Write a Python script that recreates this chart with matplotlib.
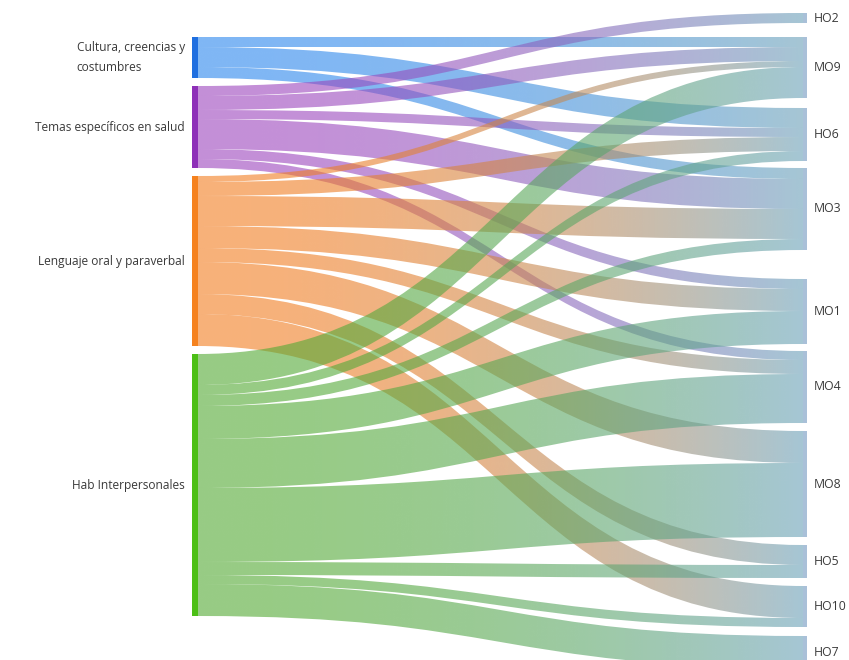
import numpy as np
import matplotlib
matplotlib.use("Agg")
import matplotlib.pyplot as plt
from matplotlib.path import Path
from matplotlib.patches import PathPatch, Rectangle
from matplotlib.colors import to_rgb

# ---- data -------------------------------------------------------------
sources = [
    "Cultura, creencias y\ncostumbres",
    "Temas específicos en salud",
    "Lenguaje oral y paraverbal",
    "Hab Interpersonales",
]
targets = ["HO2", "MO9", "HO6", "MO3", "MO1", "MO4", "MO8", "HO5", "HO10", "HO7"]

# flow from each source to every target (same order as `targets`)
cultura_flows = [0, 10, 20, 11, 0, 0, 0, 0, 0, 0]
temas_flows = [10, 14, 9, 30, 10, 9, 0, 0, 0, 0]
lenguaje_flows = [0, 6, 14, 30, 22, 14, 32, 20, 32, 0]
hab_flows = [0, 31, 10, 11, 33, 49, 74, 13, 9, 32]

flows = np.array([cultura_flows, temas_flows, lenguaje_flows, hab_flows], float)

# ---- style / layout ---------------------------------------------------
source_colors = ["#1f6fe0", "#8e30b8", "#f5821f", "#4cbf16"]
link_colors = ["#2a86ee", "#9d44be", "#f37d20", "#52aa32"]
target_link_color = "#6aa0b8"
target_bar_color = "#a9c0d8"
link_alpha = 0.6
text_color = "#3a3a3a"

W, H = 849, 660
scale = 1.0                      # pixels per unit of flow
left_x0, left_x1 = 192, 198      # source bars
right_x0, right_x1 = 803, 807    # target bars
left_top, left_gap = 37, 8
right_top = 13
right_gaps = [14, 10, 7, 29, 7, 8, 8, 8, 9]

fig = plt.figure(figsize=(W / 100, H / 100), dpi=100)
ax = fig.add_axes([0, 0, 1, 1])
ax.set_xlim(0, W)
ax.set_ylim(H, 0)
ax.axis("off")

src_tot = flows.sum(axis=1)
tgt_tot = flows.sum(axis=0)

# node positions
src_y = []
y = left_top
for t in src_tot:
    src_y.append(y)
    y += t * scale + left_gap
tgt_y = []
y = right_top
for i, t in enumerate(tgt_tot):
    tgt_y.append(y)
    y += t * scale + (right_gaps[i] if i < len(right_gaps) else 0)

# ---- links ------------------------------------------------------------
src_off = [0.0] * len(sources)
tgt_off = [0.0] * len(targets)
link_geom = {}
for s in range(len(sources)):
    for t in range(len(targets)):
        v = flows[s, t]
        if v <= 0:
            continue
        link_geom[(s, t)] = (src_y[s] + src_off[s], v * scale)
        src_off[s] += v * scale
for t in range(len(targets)):
    for s in range(len(sources)):
        v = flows[s, t]
        if v <= 0:
            continue
        ys, w = link_geom[(s, t)]
        link_geom[(s, t)] = (ys, w, tgt_y[t] + tgt_off[t])
        tgt_off[t] += v * scale

x0, x1 = left_x1, right_x0
xm = (x0 + x1) / 2
ngrad = 300
xs = np.linspace(x0, x1, ngrad)
ramp = ((xs - x0) / (x1 - x0)) ** 2

for (s, t), (ys, w, yt) in link_geom.items():
    verts = [
        (x0, ys), (xm, ys), (xm, yt), (x1, yt),
        (x1, yt + w),
        (xm, yt + w), (xm, ys + w), (x0, ys + w),
        (x0, ys),
    ]
    codes = [Path.MOVETO, Path.CURVE4, Path.CURVE4, Path.CURVE4,
             Path.LINETO,
             Path.CURVE4, Path.CURVE4, Path.CURVE4,
             Path.CLOSEPOLY]
    patch = PathPatch(Path(verts, codes), facecolor="none", edgecolor="none")
    ax.add_patch(patch)
    c0 = np.array(to_rgb(link_colors[s]))
    c1 = np.array(to_rgb(target_link_color))
    img = np.zeros((1, ngrad, 4))
    img[0, :, :3] = c0[None, :] * (1 - ramp[:, None]) + c1[None, :] * ramp[:, None]
    img[0, :, 3] = link_alpha
    lo, hi = min(ys, yt), max(ys, yt) + w
    im = ax.imshow(img, extent=(x0, x1, hi, lo), aspect="auto",
                   interpolation="bilinear", zorder=1)
    im.set_clip_path(patch)

# ---- nodes and labels -------------------------------------------------
fam = ["Open Sans", "DejaVu Sans"]
for i, name in enumerate(sources):
    h = src_tot[i] * scale
    ax.add_patch(Rectangle((left_x0, src_y[i]), left_x1 - left_x0, h,
                           facecolor=source_colors[i], edgecolor="none", zorder=3))
    ax.text(left_x0 - 7, src_y[i] + h / 2, name, ha="right", va="center",
            multialignment="left", linespacing=1.75,
            family=fam, fontsize=8.6, color=text_color)

for i, name in enumerate(targets):
    h = tgt_tot[i] * scale
    ax.add_patch(Rectangle((right_x0, tgt_y[i]), right_x1 - right_x0, h,
                           facecolor=target_bar_color, edgecolor="none", zorder=3))
    ax.text(right_x1 + 7, tgt_y[i] + h / 2, name, ha="left", va="center",
            family=fam, fontsize=8.8, color=text_color)

ax.set_xlim(0, W)
ax.set_ylim(H, 0)
fig.savefig("out.png", dpi=100, facecolor="white")
